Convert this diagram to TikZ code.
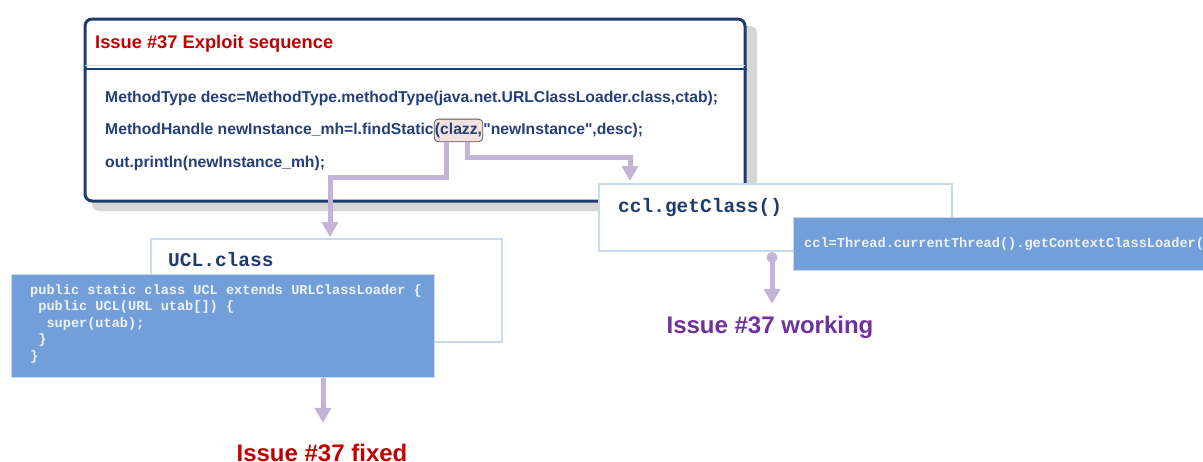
\documentclass[tikz,border=0pt]{standalone}
\usepackage{fontspec}
\setmainfont{Liberation Sans}
\setmonofont{Liberation Mono}
\newfontfamily\codefont{Liberation Sans}[Ligatures=TeXOff]
\usetikzlibrary{arrows.meta,calc}
\definecolor{navy}{HTML}{1F3B6E}
\definecolor{codenavy}{HTML}{23407A}
\definecolor{issuered}{HTML}{C00000}
\definecolor{issuepurple}{HTML}{7030A0}
\definecolor{connc}{HTML}{C3B3D6}
\definecolor{bluefill}{HTML}{729FDA}
\definecolor{lightborder}{HTML}{C9DAEE}
\definecolor{shadowgray}{HTML}{D6D6D6}
\definecolor{hlfill}{HTML}{F3E1E0}
\definecolor{codewhite}{HTML}{EEF2F8}
\tikzset{
  mainbox/.style={draw=navy, line width=3pt, rounded corners=7pt, fill=white, inner sep=0pt},
  whitebox/.style={draw=lightborder, line width=1.5pt, fill=white, inner sep=0pt},
  bluebox/.style={fill=bluefill, draw=lightborder, line width=1pt, inner sep=0pt},
  titletext/.style={font=\bfseries\fontsize{18.3pt}{20pt}\selectfont, text=issuered, inner sep=0pt, anchor=base west},
  codeline/.style={font=\codefont\bfseries\fontsize{15.7pt}{18pt}\selectfont, text=codenavy, inner sep=0pt, anchor=base west},
  hlbox/.style={draw=black!65, line width=0.8pt, fill=hlfill, rounded corners=4pt, inner xsep=0.7pt, inner ysep=4pt, anchor=base west, font=\codefont\bfseries\fontsize{15.7pt}{18pt}\selectfont, text=codenavy},
  monotitle/.style={font=\ttfamily\bfseries\fontsize{19.5pt}{22pt}\selectfont, text=navy, inner sep=0pt, anchor=base west},
  monocode/.style={font=\ttfamily\bfseries\fontsize{13.6pt}{16.5pt}\selectfont, text=codewhite, inner sep=0pt, align=left},
  issuelabel/.style={font=\bfseries\fontsize{24pt}{26pt}\selectfont, inner sep=0pt, anchor=base},
  connector/.style={draw=connc, line width=5pt, -{Triangle[width=16pt,length=15pt]}},
}
\begin{document}
\begin{tikzpicture}[x=1pt,y=-1pt]
\useasboundingbox (0,0) rectangle (1203,461);
\clip (0,0) rectangle (1203,461);
% main box with shadow
\fill[shadowgray, rounded corners=7pt] (92,26) rectangle (757,211);
\node[mainbox, minimum width=660pt, minimum height=182pt, anchor=north west] (main) at (83.5,17.5) {};
\draw[lightborder, line width=1pt] ($(main.north west)+(1.5,47.5)$) -- ($(main.north east)+(-1.5,47.5)$);
\draw[navy, line width=2.5pt] ($(main.north west)+(0,51.5)$) -- ($(main.north east)+(0,51.5)$);
\node[titletext] (title) at (95,48.5) {Issue \#37 Exploit sequence};
\node[codeline] (line1) at (105,102) {MethodType desc=MethodType.methodType(java.net.URLClassLoader.class,ctab);};
\node[codeline] (line2a) at (105,134.5) {MethodHandle newInstance\_mh=l.findStatic};
\node[hlbox] (clazz) at (line2a.base east) {(clazz,};
\node[codeline] (line2b) at (clazz.base east) {"newInstance",desc);};
\node[codeline] (line3) at (105,167) {out.println(newInstance\_mh);};
% ccl box
\node[whitebox, minimum width=353pt, minimum height=67pt, anchor=north west] (ccl) at (598,183) {};
\node[monotitle] (ccltitle) at (618,212) {ccl.getClass()};
% UCL box
\node[whitebox, minimum width=351pt, minimum height=103pt, anchor=north west] (ucl) at (150,238) {};
\node[monotitle] (ucltitle) at (168,266) {UCL.class};
% connectors from clazz
\coordinate (a1) at ($(clazz.south west)+(13,0)$);
\coordinate (b1) at ($(clazz.south west)+(34,0)$);
\draw[connector] (a1) -- ++(0,35) -| ($(ucl.north west)+(180,-1)$);
\draw[connector] (b1) -- ++(0,15) -| ($(ccl.north west)+(32,-2)$);
% blue code boxes
\node[bluebox, minimum width=423pt, minimum height=103pt, anchor=north west] (uclcode) at (11,274) {};
\node[monocode, anchor=north west] (uclcodetext) at (30,284) {public static class UCL extends URLClassLoader \{\\
\phantom{p}public UCL(URL utab[]) \{\\
\phantom{pp}super(utab);\\
\phantom{p}\}\\
\}};
\node[bluebox, minimum width=430pt, minimum height=53pt, anchor=north west] (cclcode) at (793,217) {};
\node[monocode, anchor=base west] (cclcodetext) at (804,247) {ccl=Thread.currentThread().getContextClassLoader();};
% issue labels
\node[issuelabel, text=issuepurple] (working) at (770,333.5) {Issue \#37 working};
\node[issuelabel, text=issuered] (fixed) at (322,461.5) {Issue \#37 fixed};
% lower connectors
\coordinate (c1) at ($(ccl.south west)+(174,6)$);
\fill[connc] (c1) circle (5.5pt);
\coordinate (c2) at ($(working.north)+(2,-12)$);
\draw[connector] (c1) -- (c1 |- c2);
\coordinate (d1) at ($(uclcode.south west)+(312,0)$);
\coordinate (d2) at ($(fixed.north)+(0,-21)$);
\draw[connector] (d1) -- (d1 |- d2);
\end{tikzpicture}
\end{document}
